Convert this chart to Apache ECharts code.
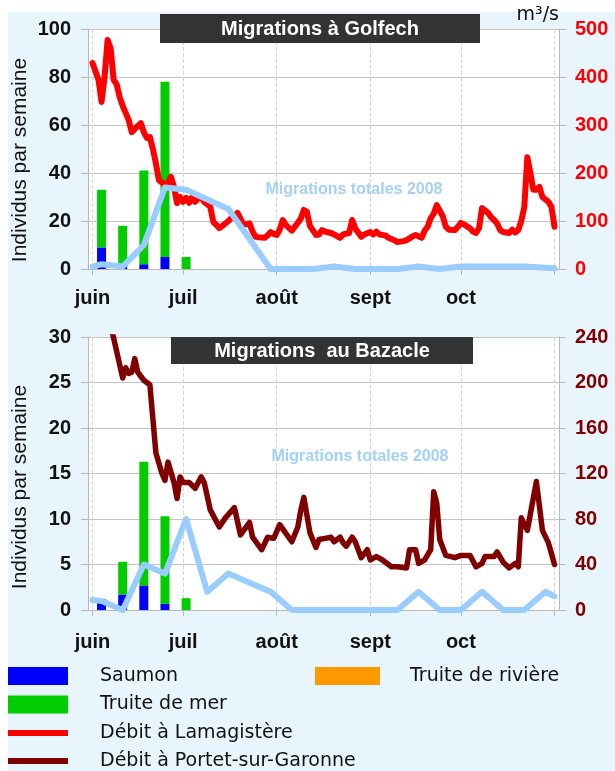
<!DOCTYPE html>
<html><head><meta charset="utf-8">
<script src="https://cdn.jsdelivr.net/npm/echarts@6/dist/echarts.min.js"></script>
<style>html,body{margin:0;padding:0;background:#fff}#c{width:615px;height:771px}</style>
</head><body><div id="c"></div><script>
// ---------- DATA ----------
const monthLabels = ['juin', 'juil', 'août', 'sept', 'oct'];
const weekDays = [3, 10, 17, 24, 31]; // days after 1 June 2008
const golfechSaumon = [9, 2, 2, 5, 0];
const golfechTruiteMer = [24, 16, 39, 73, 5];
const golfechTruiteRiviere = [];
const bazacleSaumon = [1.2, 1.7, 2.7, 0.7, 0];
const bazacleTruiteMer = [0, 3.6, 13.6, 9.6, 1.3];
const bazacleTruiteRiviere = [];

const totalDays = [0, 3, 10, 17, 24, 31, 38, 45, 52, 59, 66, 73, 80, 87, 94, 101, 108, 115, 122, 129, 136, 143, 150, 153];
const golfechTotal = [1, 2, 1, 10, 34, 33, 29, 25, 12.5, 0, 0, 0, 1, 0, 0, 0, 1, 0, 1, 1, 1, 1, 0.5, 0.3];
const bazacleTotal = [1.1, 1, 0, 5, 4, 10, 2, 4, 3, 2, 0, 0, 0, 0, 0, 0, 2, 0, 0, 2, 0, 0, 2, 1.5];

const lamagDays = [0,2,3,4,5,6,7,8,9,10,12,13,15,16,17,18,19,20,21,22,24,25,26,27,28,29,30,31,32,33,34,35,36,37,39,40,41,42,43,45,46,47,48,49,50,52,53,54,55,57,58,59,60,61,62,63,64,66,67,69,70,71,72,74,75,76,77,79,80,82,83,85,86,87,89,90,92,93,94,95,97,98,100,101,103,104,106,107,108,109,110,111,112,113,114,116,117,118,120,121,122,123,125,126,127,128,129,131,132,133,134,135,136,138,139,140,141,142,143,144,145,146,147,148,149,151,152,153];
const lamagFlow = [429,394,348,400,477,460,394,385,358,340,310,285,298,304,285,273,275,250,220,185,175,180,192,170,137,150,140,148,138,150,140,147,150,140,130,98,92,85,90,100,106,108,117,105,92,95,78,67,66,65,70,77,73,71,82,102,92,80,88,105,123,119,90,71,72,81,78,75,72,65,72,75,102,85,67,72,77,72,78,72,70,65,60,56,58,60,68,71,68,65,80,88,106,115,133,110,88,82,81,88,96,93,85,78,75,85,127,117,108,102,95,81,77,75,82,76,81,100,129,233,200,165,165,171,150,140,129,88];

const portetDays = [0,3,5,7,10,11,12,13,14,15,17,19,21,23,24,25,27,28,29,30,32,34,36,37,39,42,44,47,49,52,53,56,58,60,62,66,68,69,70,72,74,75,77,79,80,82,83,84,86,87,89,91,92,94,96,99,101,104,105,107,108,110,112,113,114,115,117,120,122,125,127,129,130,133,134,136,138,140,141,142,144,147,149,151,153];
const portetFlow = [320,290,262,239,204,213,208,209,221,209,202,198,138,120,114,130,112,98,117,112,112,107,117,112,88,73,81,90,66,77,64,53,64,63,75,60,73,88,99,68,55,62,63,64,60,64,59,56,64,60,46,53,44,47,44,38,38,37,53,53,41,44,53,104,94,62,48,46,48,48,38,41,47,47,51,42,37,41,38,81,70,113,70,59,40];

// ---------- HELPERS ----------
const T = d => new Date(2008, 5, 1 + d).getTime();
const pairs = (days, vals) => days.map((d, i) => [T(d), vals[i]]);

const GREY = '#b8b8b8';
const tickFont = {fontFamily: 'Liberation Sans', fontWeight: 'bold', fontSize: 20};

function xAx(gi, margin) {
  return {
    type: 'time', gridIndex: gi, min: T(0), max: T(153), splitNumber: 5,
    minInterval: 28 * 864e5,
    axisLine: {show: true, lineStyle: {color: GREY, width: 1}},
    axisTick: {show: true, length: 6, lineStyle: {color: GREY}},
    splitLine: {show: true, lineStyle: {color: '#d6d6d6', type: 'dashed', width: 1}},
    axisLabel: Object.assign({
      color: '#111', margin: margin, hideOverlap: false,
      formatter: function (v) {
        const i = new Date(v).getMonth() - 5;
        return (i >= 0 && i < monthLabels.length) ? monthLabels[i] : '';
      }
    }, tickFont)
  };
}
function yAx(gi, max, interval, pos, color, split, extra) {
  return Object.assign({
    type: 'value', gridIndex: gi, min: 0, max: max, interval: interval, position: pos,
    axisLine: {show: true, lineStyle: {color: GREY}},
    axisTick: {show: true, length: 7, lineStyle: {color: GREY}},
    splitLine: {show: split, lineStyle: {color: '#c4c4c4', width: 1}},
    axisLabel: Object.assign({color: color, margin: pos === 'left' ? 17 : 16}, tickFont)
  }, extra || {});
}

const bar = (name, gi, stack, color, days, vals) => ({
  type: 'bar', name: name, xAxisIndex: gi, yAxisIndex: gi * 2, stack: stack,
  barWidth: 9, itemStyle: {color: color}, color: color,
  data: pairs(days, vals), z: 2
});
const line = (name, xi, yi, color, width, days, vals, z) => ({
  type: 'line', name: name, xAxisIndex: xi, yAxisIndex: yi, symbol: 'none', showSymbol: false,
  color: color, lineStyle: {color: color, width: width, cap: 'round', join: 'round'},
  data: pairs(days, vals), z: z
});

const chart = echarts.init(document.getElementById('c'), null, {renderer: 'canvas'});
const legendText = {fontFamily: 'DejaVu Sans', fontSize: 19, color: '#111', lineHeight: 20};
function leg(names, left, top, w, h, pad, gap) {
  return {data: names, orient: 'vertical', left: left, top: top, itemWidth: w, itemHeight: h,
    itemGap: gap || 8.5, icon: 'rect', selectedMode: false, padding: 0,
    textStyle: Object.assign({padding: [0, 0, 0, pad]}, legendText)};
}

chart.setOption({
  animation: false,
  backgroundColor: '#e9f5fd',
  grid: [
    {left: 88, top: 29, width: 471, height: 240, show: true, backgroundColor: '#fff', borderWidth: 0},
    {left: 88, top: 337, width: 471, height: 273, show: true, backgroundColor: '#fff', borderWidth: 0}
  ],
  xAxis: [xAx(0, 19), xAx(1, 22)],
  yAxis: [
    yAx(0, 100, 20, 'left', '#111', true),
    yAx(0, 500, 100, 'right', '#ff0000', false, {
      name: 'm³/s', nameLocation: 'end', nameGap: 4,
      nameTextStyle: {align: 'right', verticalAlign: 'bottom', fontFamily: 'DejaVu Sans', fontSize: 19, color: '#111'}
    }),
    yAx(1, 30, 5, 'left', '#111', true),
    yAx(1, 240, 40, 'right', '#800000', false)
  ],
  legend: [
    leg(['Saumon', 'Truite de mer'], 8, 666, 60, 18, 27),
    leg(['Débit à Lamagistère'], 8, 723, 60, 6, 27),
    leg(['Débit à Portet-sur-Garonne'], 8, 751, 60, 6, 27),
    leg(['Truite de rivière'], 315, 666, 65, 18, 25)
  ],
  graphic: [
    {type: 'rect', shape: {x: 0, y: 0, width: 615, height: 12}, style: {fill: '#fff'}, z: -100},
    {type: 'rect', shape: {x: 0, y: 0, width: 8, height: 771}, style: {fill: '#fff'}, z: -100},
    {type: 'rect', shape: {x: 160, y: 14, width: 320, height: 29}, style: {fill: '#333'}, z: 100},
    {type: 'text', x: 320, y: 29, z: 101, style: {text: 'Migrations à Golfech', fill: '#fff',
      fontFamily: 'Liberation Sans', fontWeight: 'bold', fontSize: 20, align: 'center', verticalAlign: 'middle'}},
    {type: 'rect', shape: {x: 171, y: 337, width: 302, height: 27}, style: {fill: '#333'}, z: 100},
    {type: 'text', x: 322, y: 351, z: 101, style: {text: 'Migrations  au Bazacle', fill: '#fff',
      fontFamily: 'Liberation Sans', fontWeight: 'bold', fontSize: 20, align: 'center', verticalAlign: 'middle'}},
    {type: 'text', x: 20, y: 160, rotation: Math.PI / 2, z: 101, style: {text: 'Individus par semaine', fill: '#111',
      fontFamily: 'Liberation Sans', fontSize: 21, align: 'center', verticalAlign: 'middle'}},
    {type: 'text', x: 20, y: 487, rotation: Math.PI / 2, z: 101, style: {text: 'Individus par semaine', fill: '#111',
      fontFamily: 'Liberation Sans', fontSize: 21, align: 'center', verticalAlign: 'middle'}},
    {type: 'text', x: 354, y: 190, z: 101, style: {text: 'Migrations totales 2008', fill: '#a3d0f7',
      fontFamily: 'Liberation Sans', fontWeight: 'bold', fontSize: 16, align: 'center', verticalAlign: 'middle'}},
    {type: 'text', x: 360, y: 457, z: 101, style: {text: 'Migrations totales 2008', fill: '#a3d0f7',
      fontFamily: 'Liberation Sans', fontWeight: 'bold', fontSize: 16, align: 'center', verticalAlign: 'middle'}}
  ],
  series: [
    bar('Saumon', 0, 'golfech', '#0000ff', weekDays, golfechSaumon),
    bar('Truite de mer', 0, 'golfech', '#00cc00', weekDays, golfechTruiteMer),
    bar('Truite de rivière', 0, 'golfech', '#ff9900', [], golfechTruiteRiviere),
    line('Débit à Lamagistère', 0, 1, '#ff0000', 6, lamagDays, lamagFlow, 3),
    line('Migrations totales 2008 (Golfech)', 0, 0, '#99ccff', 6, totalDays, golfechTotal, 4),
    bar('Saumon', 1, 'bazacle', '#0000ff', weekDays, bazacleSaumon),
    bar('Truite de mer', 1, 'bazacle', '#00cc00', weekDays, bazacleTruiteMer),
    bar('Truite de rivière', 1, 'bazacle', '#ff9900', [], bazacleTruiteRiviere),
    line('Débit à Portet-sur-Garonne', 1, 3, '#800000', 5.5, portetDays, portetFlow, 3),
    line('Migrations totales 2008 (Bazacle)', 1, 2, '#99ccff', 6, totalDays, bazacleTotal, 4)
  ]
});
</script></body></html>
